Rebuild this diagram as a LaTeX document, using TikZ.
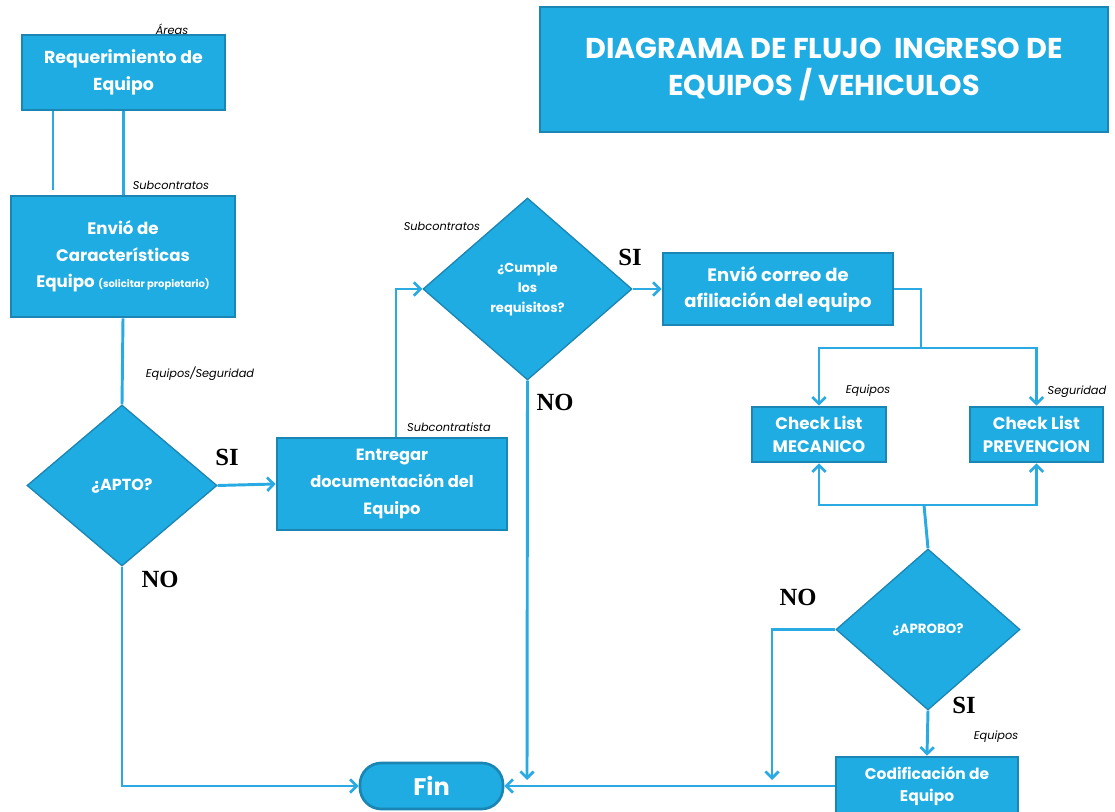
\documentclass[tikz,border=0pt]{standalone}
\usepackage{fontspec}
\newfontfamily\pop{Poppins}
\newfontfamily\tms{Liberation Serif}
\usetikzlibrary{shapes.geometric,arrows.meta}
\definecolor{fillb}{RGB}{31,172,226}
\definecolor{edgeb}{RGB}{27,134,179}
\definecolor{lineb}{RGB}{42,170,226}
\tikzset{
  box/.style={rectangle, draw=edgeb, fill=fillb, line width=2pt, text=white, align=center, font=\pop\bfseries\fontsize{13}{20}\selectfont, inner sep=2pt},
  dia/.style={diamond, draw=edgeb, fill=fillb, line width=1pt, text=white, align=center, inner sep=0pt, font=\pop\bfseries\fontsize{9.8}{15}\selectfont},
  conn/.style={draw=lineb, line width=2.2pt},
  arr/.style={conn, -{Straight Barb[length=5pt,width=10pt,line width=2pt]}},
  lbl/.style={font=\pop\itshape\fontsize{8.5}{10}\selectfont, text=black, inner sep=0pt},
  yn/.style={font=\tms\bfseries\fontsize{18.5}{18.5}\selectfont, text=black, inner sep=0pt},
}
\begin{document}
\begin{tikzpicture}[x=0.75pt,y=-0.75pt]
\useasboundingbox (0,0) rectangle (1115,812);
\fill[white] (0,0) rectangle (1115,812);
% title
\node[box, minimum width=426pt, minimum height=93.75pt, font=\pop\bfseries\fontsize{21.5}{28}\selectfont] (title) at (824,69.5) {DIAGRAMA DE FLUJO\ \ INGRESO DE\\EQUIPOS / VEHICULOS};
% boxes
\node[box, minimum width=152.25pt, minimum height=56.25pt] (b1) at (123.5,72.5) {Requerimiento de\\Equipo};
\node[box, minimum width=168pt, minimum height=90.75pt, font=\pop\bfseries\fontsize{12.5}{20}\selectfont] (b2) at (123,256.5) {Envió de\\Características\\Equipo {\fontsize{7.5}{9}\selectfont (solicitar propietario)}};
\node[box, minimum width=172.5pt, minimum height=69pt, font=\pop\bfseries\fontsize{12.2}{20}\selectfont] (b3) at (392,484) {Entregar\\documentación del\\Equipo};
\node[box, minimum width=172.5pt, minimum height=54pt, font=\pop\bfseries\fontsize{13.5}{19.5}\selectfont] (b4) at (778,289) {Envió correo de\\afiliación del equipo};
\node[box, minimum width=100.5pt, minimum height=41.25pt, font=\pop\bfseries\fontsize{12.5}{17}\selectfont] (b5) at (819,434.5) {Check List\\MECANICO};
\node[box, minimum width=99.75pt, minimum height=41.25pt, font=\pop\bfseries\fontsize{12.5}{17}\selectfont] (b6) at (1036.5,434.5) {Check List\\PREVENCION};
\node[box, minimum width=136.5pt, minimum height=43.5pt, font=\pop\bfseries\fontsize{11.6}{17}\selectfont] (b7) at (927,786) {Codificación de\\Equipo};
\node[box, rounded corners=16pt, minimum width=107.25pt, minimum height=34.5pt, font=\pop\bfseries\fontsize{18}{20}\selectfont] (fin) at (431.5,786) {Fin};
% diamonds
\node[dia, minimum width=142.5pt, minimum height=120.75pt, font=\pop\bfseries\fontsize{12}{14}\selectfont] (d1) at (122,485.5) {¿APTO?};
\node[dia, minimum width=156.75pt, minimum height=136.5pt] (d2) at (527.5,289) {¿Cumple\\los\\requisitos?};
\node[dia, minimum width=138pt, minimum height=120.75pt, font=\pop\bfseries\fontsize{10}{12}\selectfont] (d3) at (928,629.5) {¿APROBO?};
% coordinates
\coordinate (s1) at (921,348);
\coordinate (s2) at (924,505);
\coordinate (n2) at (527,780);
\coordinate (n3) at (772,780);
\coordinate (k1) at (53,190);
% connectors
\draw[conn] (b1.south -| k1) -- (k1);
\draw[conn] (b1.south) -- (b1.south |- b2.north);
\draw[conn] (b2.south) -- (d1.north);
\draw[arr] (d1.east) -- (b3.west);
\draw[arr] ([xshift=3pt]b3.north) |- (d2.west);
\draw[arr] (d2.east) -- (b4.west);
\draw[conn] (b4.east) -| (s1);
\draw[arr] (s1) -| (b5.north);
\draw[arr] (s1) -| (b6.north);
\draw[conn] (d3.north) -- (s2);
\draw[arr] (s2) -| (b5.south);
\draw[arr] (s2) -| (b6.south);
\draw[arr] (d3.west) -| (n3);
\draw[arr] (d3.south) -- (b7.north);
\draw[arr] (b7.west) -- (fin.east);
\draw[arr] (d2.south) -- (n2);
\draw[arr] (d1.south) |- (fin.west);
% labels
\node[lbl] (l1) at (172,29) {Áreas};
\node[lbl] (l2) at (171,185) {Subcontratos};
\node[lbl] (l3) at (200,374) {Equipos/Seguridad};
\node[lbl] (l4) at (449,427) {Subcontratista};
\node[lbl] (l5) at (442,226) {Subcontratos};
\node[lbl] (l6) at (868,391) {Equipos};
\node[lbl] (l7) at (1077,392) {Seguridad};
\node[lbl] (l8) at (996,737) {Equipos};
\node[yn] (y1) at (227,457) {SI};
\node[yn] (y2) at (160,579) {NO};
\node[yn] (y3) at (630,257) {SI};
\node[yn] (y4) at (555,402) {NO};
\node[yn] (y5) at (798,597) {NO};
\node[yn] (y6) at (964,705) {SI};
\end{tikzpicture}
\end{document}
